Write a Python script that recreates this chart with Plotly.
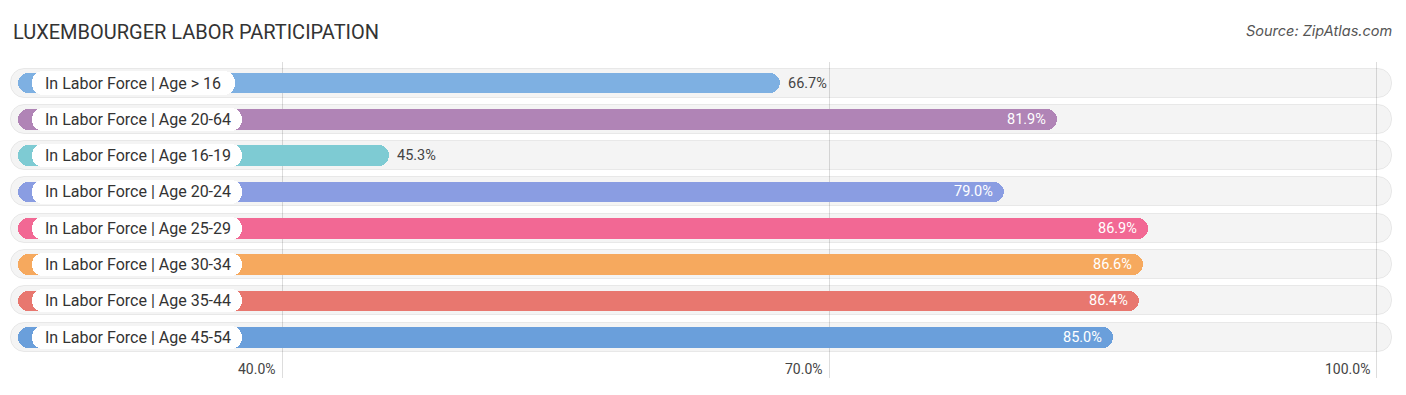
import plotly.graph_objects as go

# ---- data ----
categories = [
    "In Labor Force | Age > 16",
    "In Labor Force | Age 20-64",
    "In Labor Force | Age 16-19",
    "In Labor Force | Age 20-24",
    "In Labor Force | Age 25-29",
    "In Labor Force | Age 30-34",
    "In Labor Force | Age 35-44",
    "In Labor Force | Age 45-54",
]
values = [66.7, 81.9, 45.3, 79.0, 86.9, 86.6, 86.4, 85.0]
colors = ["#7eb0e2", "#b084b6", "#7ecbd3", "#8a9de2", "#f26894",
          "#f6a95e", "#e8776f", "#6a9fdb"]
tick_vals = [40, 70, 100]
tick_text = ["40.0%", "70.0%", "100.0%"]

# ---- geometry (pixel-based styling helpers) ----
W, H = 1406, 395
ml, mr, mt, mb = 10, 13, 62, 17
x0, x1 = 25.06, 100.88
pw = W - ml - mr
ppu = pw / (x1 - x0)          # pixels per unit
def px(p):                    # pixel length -> data units
    return p / ppu

cap = px(10)                  # rounded cap beyond the value
bar_start = x0 + px(8)
pill_start = x0 + px(22)

n = len(categories)
ys = list(range(n))

fig = go.Figure()

def pill(y, start, end, width, color, radius, line=None):
    mk = dict(color=color, cornerradius=radius,
              line=line if line else dict(width=0))
    fig.add_trace(go.Bar(
        y=y, x=[e - start for e in end], base=start, orientation="h",
        width=width, marker=mk, hoverinfo="skip", showlegend=False))

# background tracks
pill(ys, x0 + px(1), [x1 - px(1)] * n, 0.80, "rgba(0,0,0,0.045)", 14,
     line=dict(color="rgba(0,0,0,0.07)", width=1))

# value bars
for i in range(n):
    pill([i], bar_start, [values[i] + cap], 0.57, colors[i], 10)

# label pills (width from text length)
label_ends = [pill_start + px(24 + 7.15 * len(c)) for c in categories]
for i in range(n):
    pill([i], pill_start, [label_ends[i]], 0.64, "#ffffff", 11.5)

annotations = []
for i, c in enumerate(categories):
    annotations.append(dict(x=pill_start, y=i, xref="x", yref="y", text=c,
                            showarrow=False, xanchor="left", xshift=11,
                            font=dict(family="Roboto", size=16, color="#333333")))
    end = values[i] + cap
    if values[i] >= 70:
        annotations.append(dict(x=end, y=i, xref="x", yref="y",
                                text=f"{values[i]:.1f}%", showarrow=False,
                                xanchor="right", xshift=-9,
                                font=dict(family="Roboto", size=14.5, color="#ffffff")))
    else:
        annotations.append(dict(x=end, y=i, xref="x", yref="y",
                                text=f"{values[i]:.1f}%", showarrow=False,
                                xanchor="left", xshift=6,
                                font=dict(family="Roboto", size=14.5, color="#444444")))

for v, t in zip(tick_vals, tick_text):
    annotations.append(dict(x=v, y=0, xref="x", yref="paper", text=t,
                            showarrow=False, xanchor="right", yanchor="middle",
                            xshift=-5, yshift=9,
                            font=dict(family="Roboto", size=14, color="#444444")))

annotations.append(dict(x=1, y=1 + (mt - 31) / (H - mt - mb), xref="paper", yref="paper",
                        text="Source: ZipAtlas.com", showarrow=False,
                        xanchor="right", yanchor="middle", xshift=1,
                        font=dict(family="Inter", size=14.5, color="#555555",
                                  style="italic")))
annotations.append(dict(x=0, y=1 + (mt - 32) / (H - mt - mb), xref="paper", yref="paper",
                        text="LUXEMBOURGER LABOR PARTICIPATION", showarrow=False,
                        xanchor="left", yanchor="middle", xshift=1,
                        font=dict(family="Roboto", size=20, color="#333333")))

fig.update_layout(
    width=W, height=H,
    margin=dict(l=ml, r=mr, t=mt, b=mb),
    paper_bgcolor="white", plot_bgcolor="white",
    barmode="overlay",
    xaxis=dict(range=[x0, x1], tickvals=tick_vals, showticklabels=False,
               showgrid=True, gridcolor="#dddddd", gridwidth=1, zeroline=False,
               showline=False, fixedrange=True),
    yaxis=dict(range=[n - 0.5 + 0.625, -0.58], showticklabels=False, showgrid=False,
               zeroline=False, showline=False, fixedrange=True,
               tickvals=ys),
    annotations=annotations,
    bargap=0,
)

fig.write_html("out.html", config={"displayModeBar": False},
               post_script="document.body.style.margin='0';document.body.style.overflow='hidden';")
